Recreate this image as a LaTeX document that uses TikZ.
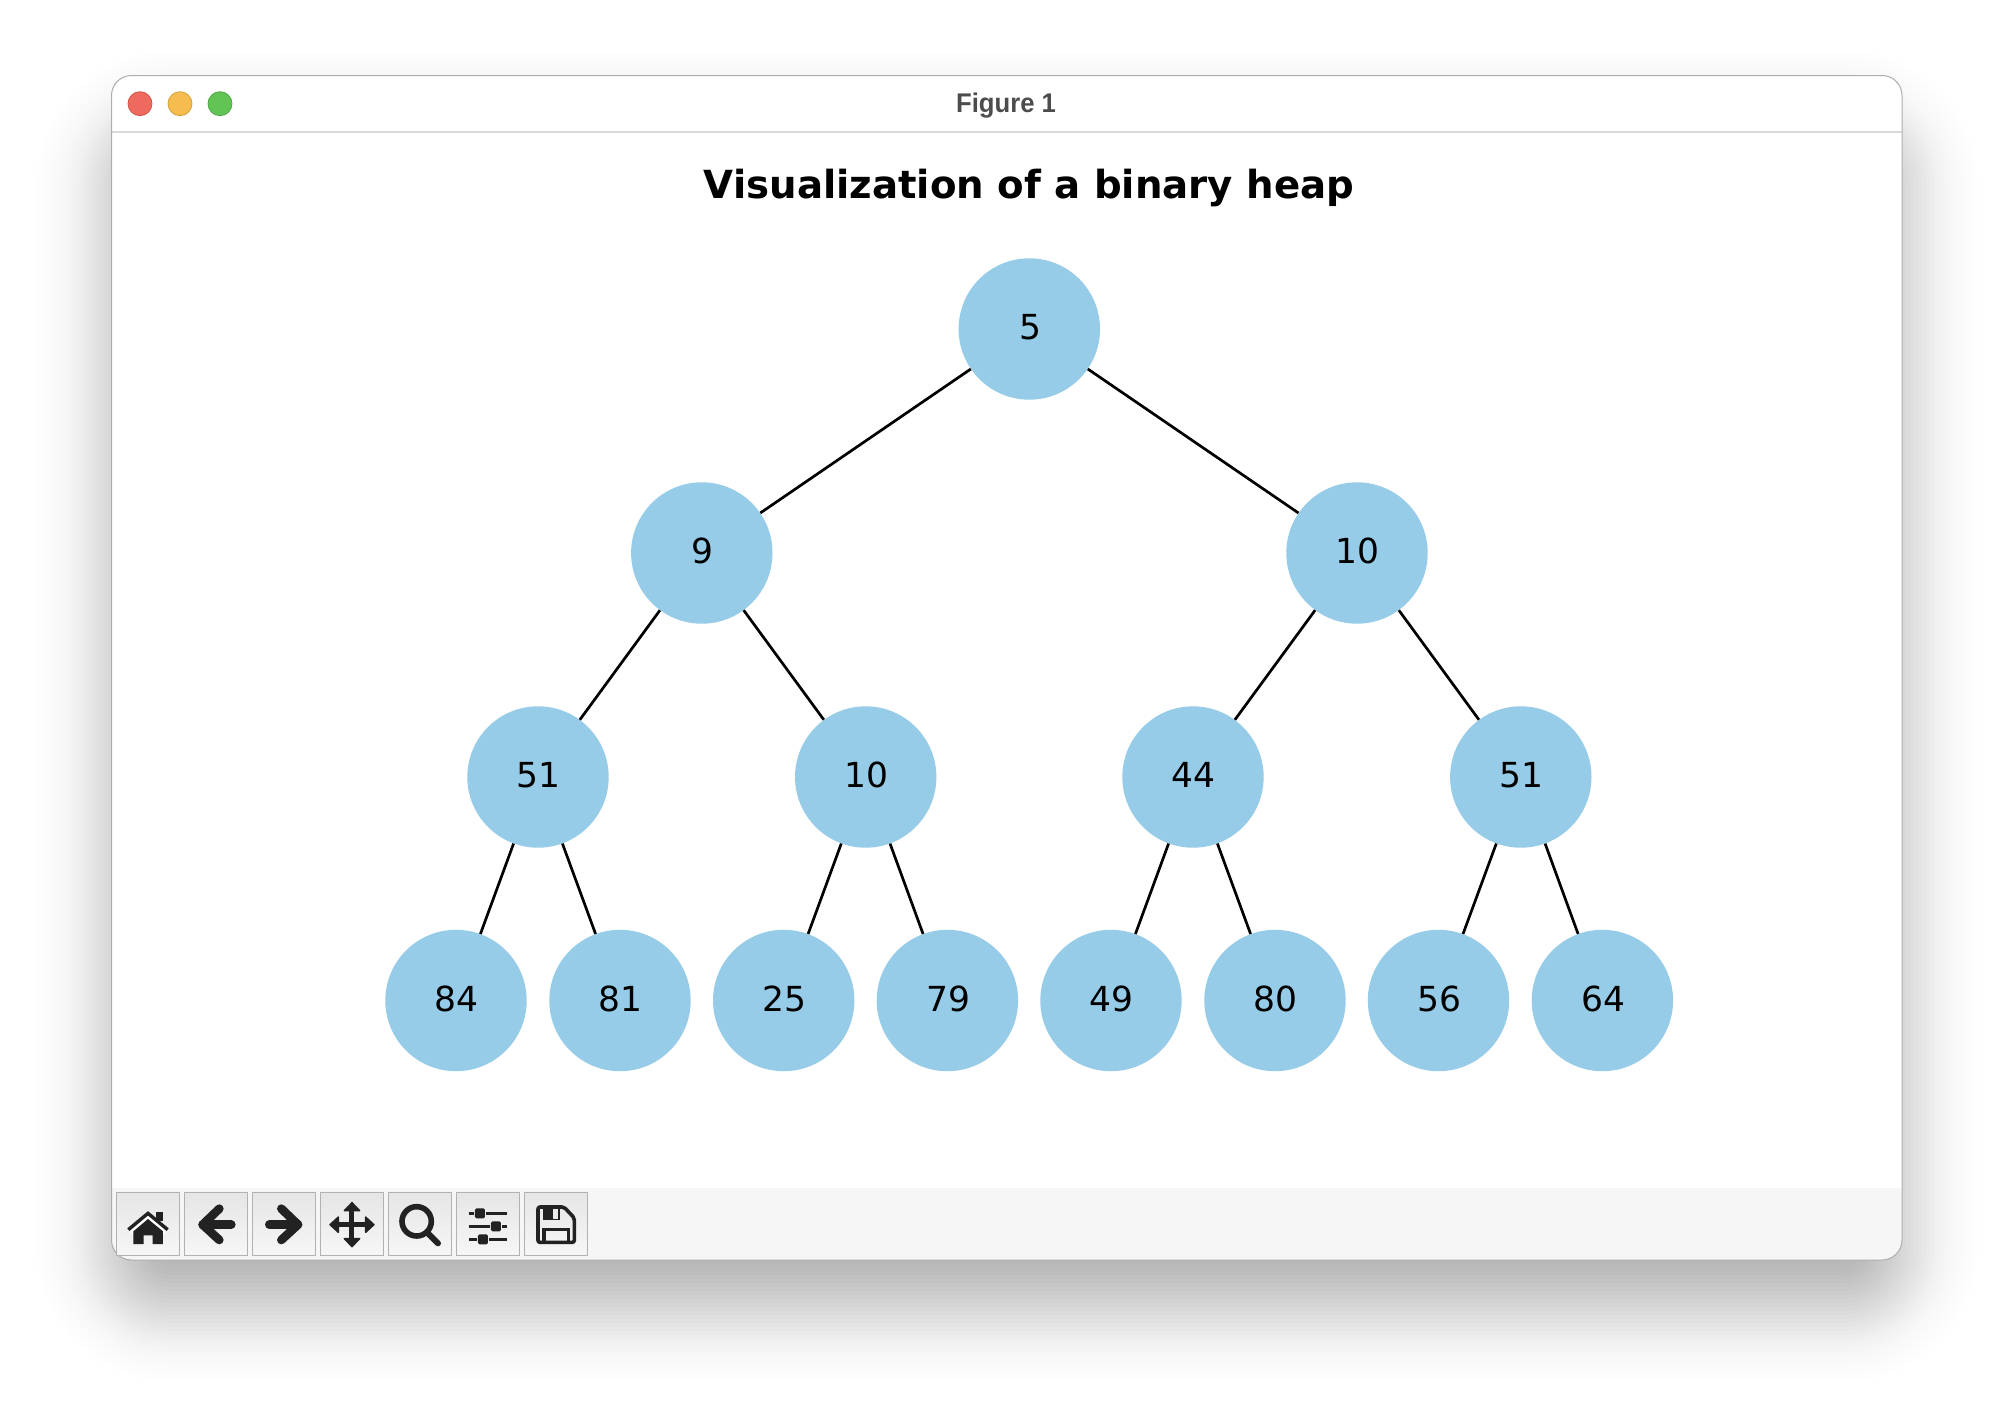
\documentclass[tikz,border=0pt]{standalone}
\usepackage{fontspec}
\setmainfont{DejaVu Sans}
\newfontfamily\uifont{Liberation Sans}
\definecolor{heapblue}{HTML}{97CCE8}
\definecolor{tbar}{HTML}{F6F6F6}
\definecolor{iconk}{HTML}{222222}
\tikzset{
  heapnode/.style={circle,fill=heapblue,inner sep=0pt,minimum size=141.4pt,text height=21.5pt,text depth=0pt,font=\fontsize{34.5}{40}\selectfont,execute at begin node=\kern1.6pt},
  heapedge/.style={draw=black,line width=2.7pt},
  tbtn/.style={draw=black!30,line width=1pt,top color=black!10,bottom color=tbar},
  ic/.style={draw=iconk,line cap=round,line join=round},
  icf/.style={fill=iconk,draw=iconk,line join=round,line width=1.4pt},
  light/.style={circle,minimum size=24pt,inner sep=0pt,line width=0.8pt}
}
\begin{document}
\begin{tikzpicture}[x=1pt,y=-1pt]
\useasboundingbox (0,0) rectangle (2014,1408);
\fill[white] (0,0) rectangle (2014,1408);
% soft window shadow
\foreach \d in {-120,-116,...,120}{
  \pgfmathsetmacro{\op}{0.34*exp(-0.5*(\d/40)^2)/(40*2.5066)*4}
  \pgfmathsetmacro{\rr}{max(1,60+\d)}
  \fill[black,opacity=\op,rounded corners=\rr pt] (112-\d,125-\d) rectangle (1902+\d,1307+\d);
}
% window
\fill[white,rounded corners=20pt] (111.5,75.5) rectangle (1902,1260);
\begin{scope}
  \clip[rounded corners=20pt] (111.5,75.5) rectangle (1902,1260);
  \fill[tbar] (111.5,1188) rectangle (1902,1260);
  \draw[black!15,line width=1.2pt] (111.5,132) -- (1902,132);
\end{scope}
\draw[black!32,line width=1pt,rounded corners=20pt] (111.5,75.5) rectangle (1902,1260);
% traffic lights
\node[light,fill={rgb,255:red,238;green,106;blue,95},draw={rgb,255:red,208;green,84;blue,74}] (closeb) at (140,103.7) {};
\node[light,fill={rgb,255:red,245;green,189;blue,79},draw={rgb,255:red,214;green,160;blue,62}] (minb) at (180,103.7) {};
\node[light,fill={rgb,255:red,97;green,196;blue,84},draw={rgb,255:red,80;green,167;blue,68}] (maxb) at (220,103.7) {};
\node[font=\uifont\bfseries\fontsize{27}{30}\selectfont,text=black!70,xscale=0.95] (wintitle) at (1006,105.5) {Figure 1};
% title
\node[font=\bfseries\fontsize{38.7}{48}\selectfont] (plottitle) at (1029,188) {Visualization of a binary heap};
% heap
\node[heapnode] (a) at (1029.3,329) {5};
\node[heapnode] (b) at (701.8,553) {9};
\node[heapnode] (c) at (1357,553) {10};
\node[heapnode] (d) at (538,777) {51};
\node[heapnode] (e) at (865.7,777) {10};
\node[heapnode] (f) at (1193,777) {44};
\node[heapnode] (g) at (1520.8,777) {51};
\node[heapnode] (h) at (456,1000.5) {84};
\node[heapnode] (i) at (620,1000.5) {81};
\node[heapnode] (j) at (783.7,1000.5) {25};
\node[heapnode] (k) at (947.4,1000.5) {79};
\node[heapnode] (l) at (1111,1000.5) {49};
\node[heapnode] (m) at (1275,1000.5) {80};
\node[heapnode] (n) at (1438.5,1000.5) {56};
\node[heapnode] (o) at (1602.4,1000.5) {64};
\foreach \p/\q in {a/b,a/c,b/d,b/e,c/f,c/g,d/h,d/i,e/j,e/k,f/l,f/m,g/n,g/o}
  \draw[heapedge] (\p) -- (\q);
% toolbar buttons
\foreach \i in {0,...,6}
  \path[tbtn] (116+68*\i,1192) rectangle (179.3+68*\i,1255.3);
% home
\begin{scope}[shift={(114,1188)},x=0.3333pt,y=-0.3333pt]
  \fill[iconk] (127,72) rectangle (146,100);
  \draw[white,line width=6pt,line join=miter] (50,131) -- (102,86) -- (154,131);
  \draw[ic,line width=3.4pt,line join=miter,line cap=butt] (43,125) -- (102,76) -- (161,125);
  \fill[iconk] (102,93) -- (147,130) -- (147,168) -- (116,168) -- (116,142) -- (89,142) -- (89,168) -- (58,168) -- (58,130) -- cycle;
  % left arrow
  \draw[ic,line width=8.6pt] (316,62) -- (266,110) -- (316,156);
  \draw[ic,line width=8.6pt] (266,110) -- (352,110);
\end{scope}
\begin{scope}[shift={(250,1188)},x=0.3333pt,y=-0.3333pt]
  % right arrow
  \draw[ic,line width=8.6pt] (94,62) -- (144,110) -- (94,156);
  \draw[ic,line width=8.6pt] (144,110) -- (58,110);
  % move
  \draw[iconk,line width=5pt] (306,60) -- (306,160) (256,110) -- (356,110);
  \fill[icf] (306,44) -- (329,68) -- (283,68) -- cycle;
  \fill[icf] (306,176) -- (329,152) -- (283,152) -- cycle;
  \fill[icf] (240,110) -- (265,87) -- (265,133) -- cycle;
  \fill[icf] (372,110) -- (347,87) -- (347,133) -- cycle;
\end{scope}
\begin{scope}[shift={(386,1188)},x=0.3333pt,y=-0.3333pt]
  % zoom
  \draw[ic,line width=5.6pt] (92,100) circle [radius=44];
  \draw[ic,line width=6pt] (127,137) -- (156,166);
  % sliders
  \draw[iconk,line width=3.6pt] (248,76) -- (264,76) (300,76) -- (364,76)
    (248,115) -- (312,115) (348,115) -- (364,115)
    (248,154) -- (273,154) (309,154) -- (364,154);
  \fill[iconk,rounded corners=1.5pt] (267,61) rectangle (297,91);
  \fill[iconk,rounded corners=1.5pt] (315,100) rectangle (345,130);
  \fill[iconk,rounded corners=1.5pt] (276,139) rectangle (306,169);
\end{scope}
\begin{scope}[shift={(522,1188)},x=0.3333pt,y=-0.3333pt]
  % save
  \draw[ic,line width=3.6pt,rounded corners=2pt] (48,57) -- (126,57) -- (157,90) -- (157,163) -- (48,163) -- cycle;
  \fill[iconk] (63,57) rectangle (113,97);
  \fill[black!8] (92,62) rectangle (108,92);
  \draw[iconk,line width=3.2pt] (66,163) -- (66,124) -- (139,124) -- (139,163);
\end{scope}
\end{tikzpicture}
\end{document}
